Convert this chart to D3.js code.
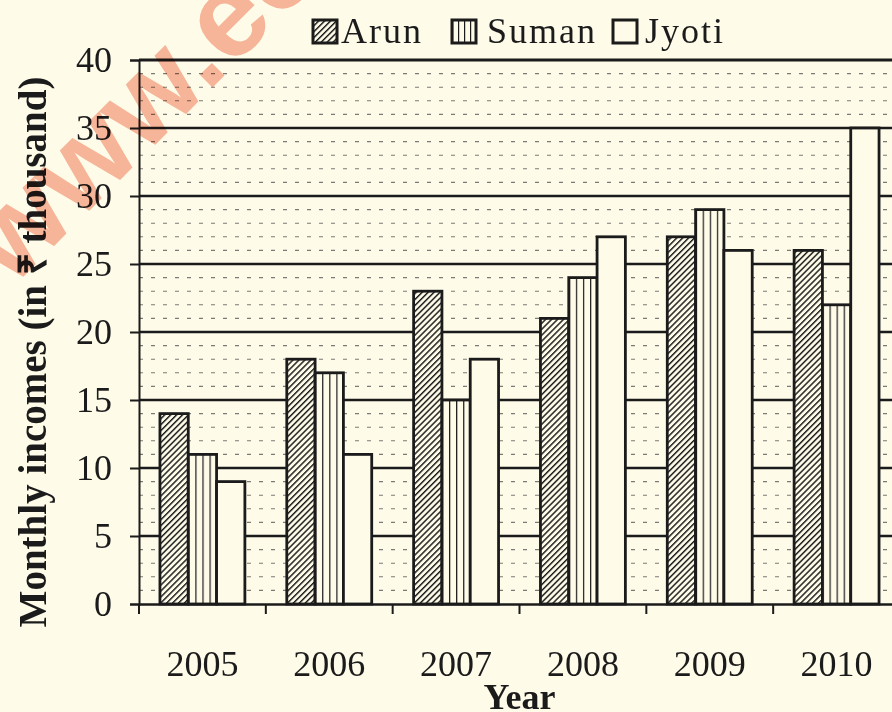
<!DOCTYPE html>
<html>
<head>
<meta charset="utf-8">
<script src="https://cdn.jsdelivr.net/npm/d3@7"></script>
<style>
  html, body { margin: 0; padding: 0; background: #fefbe9; }
  svg { display: block; }
  text { font-family: "Liberation Serif", "Times New Roman", serif; }
</style>
</head>
<body>
<svg id="chart"></svg>
<script>
// values
var years = ["2005", "2006", "2007", "2008", "2009", "2010"];
var arun = [14, 18, 23, 21, 27, 26];
var suman = [11, 17, 15, 24, 29, 22];
var jyoti = [9, 11, 18, 27, 26, 35];
var seriesNames = ["Arun", "Suman", "Jyoti"];
var yTicks = [0, 5, 10, 15, 20, 25, 30, 35, 40];

var W = 892, H = 712;
var margin = { top: 60, right: -8, bottom: 108, left: 139 };
var ink = "#1b1b1b";
var paper = "#fefbe9";

var svg = d3.select("#chart").attr("width", W).attr("height", H);

// hatch patterns
var defs = svg.append("defs");
var hatch = defs.append("pattern")
    .attr("id", "hatch")
    .attr("patternUnits", "userSpaceOnUse")
    .attr("width", 4.2).attr("height", 4.2)
    .attr("patternTransform", "rotate(45)");
hatch.append("rect").attr("width", 4.2).attr("height", 4.2).attr("fill", paper);
hatch.append("line").attr("x1", 0.7).attr("y1", 0).attr("x2", 0.7).attr("y2", 4.2)
    .attr("stroke", ink).attr("stroke-width", 1.5);

var vlines = defs.append("pattern")
    .attr("id", "vlines")
    .attr("patternUnits", "objectBoundingBox")
    .attr("width", 0.25).attr("height", 1);
vlines.append("rect").attr("width", 40).attr("height", 1000).attr("fill", paper);
vlines.append("line").attr("x1", 0).attr("y1", 0).attr("x2", 0).attr("y2", 1000)
    .attr("stroke", ink).attr("stroke-width", 2.4);

var fills = ["url(#hatch)", "url(#vlines)", paper];

// scales
var y = d3.scaleLinear()
    .domain([0, 40])
    .range([H - margin.bottom, margin.top]);

var x0 = d3.scaleBand()
    .domain(years)
    .range([margin.left, W - margin.right])
    .padding(0);

var x1 = d3.scaleBand()
    .domain(seriesNames)
    .range([0, x0.bandwidth()])
    .paddingInner(0)
    .paddingOuter(0.74);

// minor dashed grid
var minor = d3.range(1, 40).filter(function(v) { return v % 5 != 0; });
svg.append("g").selectAll("line")
    .data(minor)
  .enter().append("line")
    .attr("x1", margin.left).attr("x2", W - margin.right)
    .attr("y1", d => y(d)).attr("y2", d => y(d))
    .attr("stroke", "#444")
    .attr("stroke-width", 1.1)
    .attr("stroke-dasharray", "4,8")
    .attr("opacity", 0.7);

// major grid
svg.append("g").selectAll("line")
    .data(yTicks.slice(1))
  .enter().append("line")
    .attr("x1", margin.left).attr("x2", W - margin.right)
    .attr("y1", d => y(d)).attr("y2", d => y(d))
    .attr("stroke", ink)
    .attr("stroke-width", d => d == 40 ? 3.2 : 2.6);

// y axis
var yAxis = g => g
    .attr("transform", "translate(" + margin.left + ",0)")
    .call(d3.axisLeft(y).tickValues(yTicks).tickSize(9).tickPadding(18))
    .call(g => g.select(".domain").attr("stroke", ink).attr("stroke-width", 2))
    .call(g => g.selectAll(".tick line").attr("stroke", ink).attr("stroke-width", 2))
    .call(g => g.selectAll(".tick text")
        .style("font-family", "'Liberation Serif', serif")
        .style("font-size", "36px")
        .style("fill", ink));
svg.append("g").call(yAxis);

// bars
var data = years.map(function(yr, i) {
  return { year: yr, values: [arun[i], suman[i], jyoti[i]] };
});

var group = svg.append("g").selectAll("g")
    .data(data)
  .enter().append("g")
    .attr("transform", d => "translate(" + x0(d.year) + ",0)");

group.selectAll("rect")
    .data(d => d.values.map((v, k) => ({ name: seriesNames[k], value: v, k: k })))
  .enter().append("rect")
    .attr("x", d => x1(d.name))
    .attr("width", x1.bandwidth())
    .attr("y", d => y(d.value))
    .attr("height", d => y(0) - y(d.value))
    .attr("fill", d => fills[d.k])
    .attr("stroke", ink)
    .attr("stroke-width", 2.8);

// x axis
var xAxis = g => g
    .attr("transform", "translate(0," + y(0) + ")")
    .call(d3.axisBottom(x0).tickSize(0).tickPadding(46))
    .call(g => g.select(".domain").attr("stroke", ink).attr("stroke-width", 2.4))
    .call(g => g.selectAll(".tick text")
        .style("font-family", "'Liberation Serif', serif")
        .style("font-size", "36px")
        .style("fill", ink));
svg.append("g").call(xAxis);

// tick marks between the years
svg.append("g").selectAll("line")
    .data(years)
  .enter().append("line")
    .attr("x1", d => x0(d)).attr("x2", d => x0(d))
    .attr("y1", y(0)).attr("y2", y(0) + 10)
    .attr("stroke", ink).attr("stroke-width", 2);

// axis titles
svg.append("text")
    .attr("transform", "translate(46,352) rotate(-90)")
    .attr("text-anchor", "middle")
    .style("font-size", "39px")
    .style("font-weight", "bold")
    .style("fill", ink)
    .text("Monthly incomes (in ₹ thousand)");

svg.append("text")
    .attr("x", (x0.range()[0] + x0.range()[1]) / 2)
    .attr("y", 709)
    .attr("text-anchor", "middle")
    .style("font-size", "36px")
    .style("font-weight", "bold")
    .style("fill", ink)
    .text("Year");

// legend
var legendBoxX = [313, 452, 613];
var legendTextX = [341, 487, 645];
var legend = svg.append("g").selectAll("g")
    .data(seriesNames)
  .enter().append("g");
legend.append("rect")
    .attr("x", (d, i) => legendBoxX[i]).attr("y", 20)
    .attr("width", 24).attr("height", 23)
    .attr("fill", (d, i) => fills[i])
    .attr("stroke", ink).attr("stroke-width", 3);
legend.append("text")
    .attr("x", (d, i) => legendTextX[i]).attr("y", 43)
    .style("font-size", "36px")
    .style("letter-spacing", "2px")
    .style("fill", ink)
    .text(d => d);

// watermark
svg.append("text")
    .attr("transform", "translate(12,288) rotate(-45)")
    .style("font-family", "'Liberation Sans', Arial, sans-serif")
    .style("font-size", "120px")
    .style("font-weight", "bold")
    .style("mix-blend-mode", "multiply")
    .style("fill", "#f7b7a6")
    .text("www.ee");
</script>
</body>
</html>
